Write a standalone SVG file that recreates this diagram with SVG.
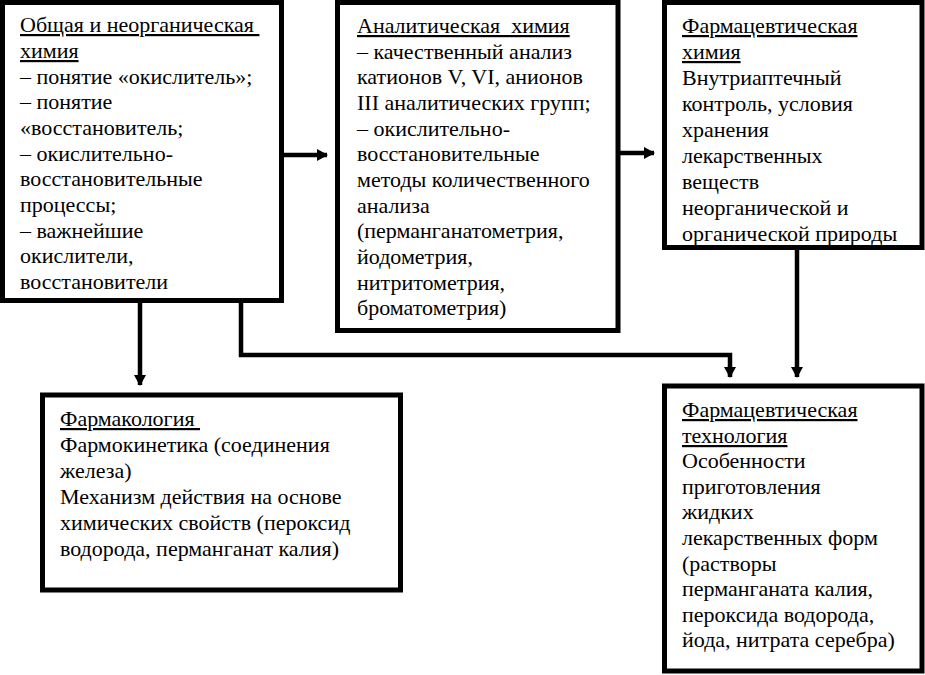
<svg xmlns="http://www.w3.org/2000/svg" width="925" height="675" viewBox="0 0 925 675">
<style>
.box{fill:#fff;stroke:#000;stroke-width:5}
text{font-family:"Liberation Serif","Times New Roman",serif;font-size:22px;fill:#000;white-space:pre}
.u{text-decoration:underline}
.c{fill:none;stroke:#000;stroke-width:4.5}
</style>
<defs>
<marker id="ah" markerUnits="userSpaceOnUse" markerWidth="12" markerHeight="12" refX="10" refY="6" orient="auto">
<path d="M0,0 L11,6 L0,12 Z" fill="#000"/>
</marker>
</defs>
<g id="connectors">
<path class="c" d="M284,155 H327" marker-end="url(#ah)"/>
<path class="c" d="M620,153 H654" marker-end="url(#ah)"/>
<path class="c" d="M140,303 V385" marker-end="url(#ah)"/>
<path class="c" d="M241,303 V355 H730 V377" marker-end="url(#ah)"/>
<path class="c" d="M797,250 V377" marker-end="url(#ah)"/>
</g>
<g id="n1">
<rect class="box" x="2.5" y="2.5" width="279" height="298"/>
<text x="20" y="32"><tspan class="u">Общая и неорганическая </tspan></text>
<text x="20" y="58"><tspan class="u">химия</tspan></text>
<text x="20" y="84">– понятие «окислитель»;</text>
<text x="20" y="109">– понятие</text>
<text x="20" y="135">«восстановитель;</text>
<text x="20" y="161">– окислительно-</text>
<text x="20" y="186">восстановительные</text>
<text x="20" y="212">процессы;</text>
<text x="20" y="238">– важнейшие</text>
<text x="20" y="263">окислители,</text>
<text x="20" y="289">восстановители</text>
</g>
<g id="n2">
<rect class="box" x="337.5" y="2.5" width="280.5" height="328"/>
<text x="357" y="33"><tspan class="u">Аналитическая  химия</tspan></text>
<text x="357" y="59">– качественный анализ</text>
<text x="357" y="84">катионов V, VI, анионов</text>
<text x="357" y="110">III аналитических групп;</text>
<text x="357" y="136">– окислительно-</text>
<text x="357" y="161">восстановительные</text>
<text x="357" y="187">методы количественного</text>
<text x="357" y="213">анализа</text>
<text x="357" y="238">(перманганатометрия,</text>
<text x="357" y="264">йодометрия,</text>
<text x="357" y="290">нитритометрия,</text>
<text x="357" y="315">броматометрия)</text>
</g>
<g id="n3">
<rect class="box" x="664.5" y="2.5" width="257.5" height="245"/>
<text x="682" y="33"><tspan class="u">Фармацевтическая</tspan></text>
<text x="682" y="59"><tspan class="u">химия</tspan></text>
<text x="682" y="85">Внутриаптечный</text>
<text x="682" y="111">контроль, условия</text>
<text x="682" y="137">хранения</text>
<text x="682" y="163">лекарственных</text>
<text x="682" y="189">веществ</text>
<text x="682" y="215">неорганической и</text>
<text x="682" y="241">органической природы</text>
</g>
<g id="n4">
<rect class="box" x="42.5" y="395" width="358" height="195"/>
<text x="60" y="426"><tspan class="u">Фармакология </tspan></text>
<text x="60" y="452">Фармокинетика (соединения</text>
<text x="60" y="478">железа)</text>
<text x="60" y="504">Механизм действия на основе</text>
<text x="60" y="530">химических свойств (пероксид</text>
<text x="60" y="556">водорода, перманганат калия)</text>
</g>
<g id="n5">
<rect class="box" x="664.5" y="386" width="257.5" height="285"/>
<text x="682" y="417"><tspan class="u">Фармацевтическая</tspan></text>
<text x="682" y="443"><tspan class="u">технология</tspan></text>
<text x="682" y="468">Особенности</text>
<text x="682" y="494">приготовления</text>
<text x="682" y="519">жидких</text>
<text x="682" y="545">лекарственных форм</text>
<text x="682" y="571">(растворы</text>
<text x="682" y="596">перманганата калия,</text>
<text x="682" y="622">пероксида водорода,</text>
<text x="682" y="647">йода, нитрата серебра)</text>
</g>
</svg>
